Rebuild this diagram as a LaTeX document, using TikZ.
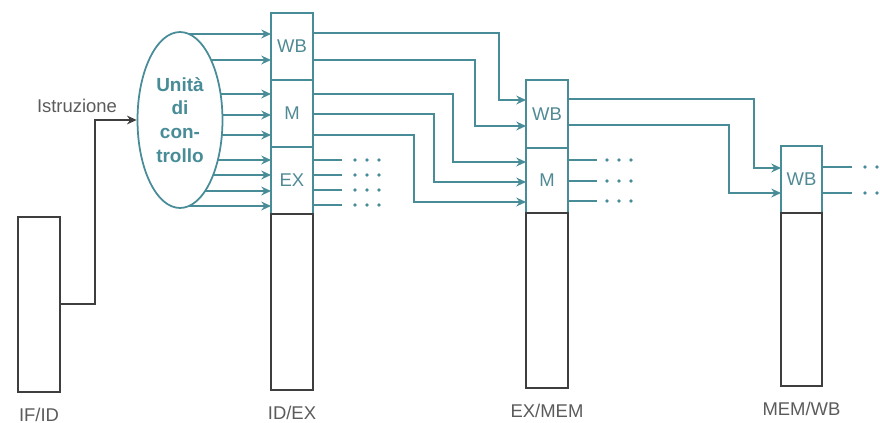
\documentclass[tikz,border=0pt]{standalone}
\usepackage{fontspec}
\setmainfont{Liberation Sans}
\usetikzlibrary{positioning,shapes.geometric,arrows.meta,backgrounds}
\definecolor{ctrl}{RGB}{72,140,152}
\definecolor{ink}{RGB}{62,62,62}
\tikzset{
  stage/.style={draw=ctrl, line width=1pt, minimum width=0.84cm, inner sep=0pt, outer sep=0pt, anchor=north west, text=ctrl!85!gray, font=\fontsize{10.5}{12}\selectfont},
  latch/.style={draw=ink, line width=1pt, minimum width=0.84cm, inner sep=0pt, outer sep=0pt, anchor=north west},
  sig/.style={draw=ctrl, line width=1pt},
  contdots/.style={draw=ctrl, line width=2.2pt, line cap=round, dash pattern=on 0pt off 0.24cm},
  regname/.style={text=ink!85, font=\fontsize{10.5}{12}\selectfont}
}
\begin{document}
\begin{tikzpicture}[x=0.02cm, y=-0.02cm, >={Stealth[length=5.5pt,width=5pt]}]
    \useasboundingbox (0,0) rectangle (880,423);

    % Pipeline registers
    \node[latch, minimum height=3.5cm] (ifid) at (18,217) {};
    \node[stage, minimum height=1.34cm] (idexwb) at (271,13) {WB};
    \node[stage, minimum height=1.34cm] (idexm) at (idexwb.south west) {M};
    \node[stage, minimum height=1.34cm] (idexex) at (idexm.south west) {EX};
    \node[latch, minimum height=3.52cm] (idexlo) at (idexex.south west) {};
    \node[stage, minimum height=1.36cm] (exmemwb) at (526,80) {WB};
    \node[stage, minimum height=1.3cm] (exmemm) at (exmemwb.south west) {M};
    \node[latch, minimum height=3.5cm] (exmemlo) at (exmemm.south west) {};
    \node[stage, minimum height=1.34cm, minimum width=0.82cm] (memwbwb) at (781,146) {WB};
    \node[latch, minimum height=3.46cm, minimum width=0.82cm] (memwblo) at (memwbwb.south west) {};

    % Labels
    \node[regname, below=0.2cm of ifid] (ifidlbl) {IF/ID};
    \node[regname, below=0.2cm of idexlo] (idexlbl) {ID/EX};
    \node[regname, below=0.2cm of exmemlo] (exmemlbl) {EX/MEM};
    \node[regname, below=0.2cm of memwblo] (memwblbl) {MEM/WB};

    % Control unit
    \node[ellipse, draw=ctrl, line width=1pt, fill=white, minimum width=1.7cm, minimum height=3.52cm,
          inner sep=0pt, align=center, text=ctrl, font=\fontsize{10.8}{13.6}\selectfont\bfseries]
          (cu) at (180,120) {Unità\\di\\con-\\trollo};
    \node[regname] (instr) at (77,106) {Istruzione};
    \draw[draw=ink, line width=1pt, ->] (ifid.east |- 0,304) -- (95,304) |- (cu.west);

    \begin{scope}[on background layer]
      \foreach \y in {34,60,94,115,135,160,175,191,206}
        \draw[sig, ->] (cu.center |- 0,\y) -- (idexwb.west |- 0,\y);
    \end{scope}

    % ID/EX -> EX/MEM
    \foreach \ya/\xm/\yb in {33/499/100, 60/475/126}
      \draw[sig, ->] (idexwb.east |- 0,\ya) -| (\xm,\yb) -- (exmemwb.west |- 0,\yb);
    \foreach \ya/\xm/\yb in {94/453/162, 114/434/182, 135/414/202}
      \draw[sig, ->] (idexm.east |- 0,\ya) -| (\xm,\yb) -- (exmemm.west |- 0,\yb);
    \foreach \y in {160,175,190,205} {
      \draw[sig] (idexex.east |- 0,\y) -- ++(29,0);
      \draw[contdots] (355,\y) -- (379.5,\y);
    }

    % EX/MEM -> MEM/WB
    \foreach \ya/\xm/\yb in {99/754/168, 125/729/193}
      \draw[sig, ->] (exmemwb.east |- 0,\ya) -| (\xm,\yb) -- (memwbwb.west |- 0,\yb);
    \foreach \y in {160,181,201} {
      \draw[sig] (exmemm.east |- 0,\y) -- ++(29,0);
      \draw[contdots] (607,\y) -- (633.5,\y);
    }

    % MEM/WB outputs
    \foreach \y in {167,193} {
      \draw[sig] (memwbwb.east |- 0,\y) -- ++(30,0);
      \draw[contdots] (865,\y) -- (877.5,\y);
    }
\end{tikzpicture}
\end{document}
